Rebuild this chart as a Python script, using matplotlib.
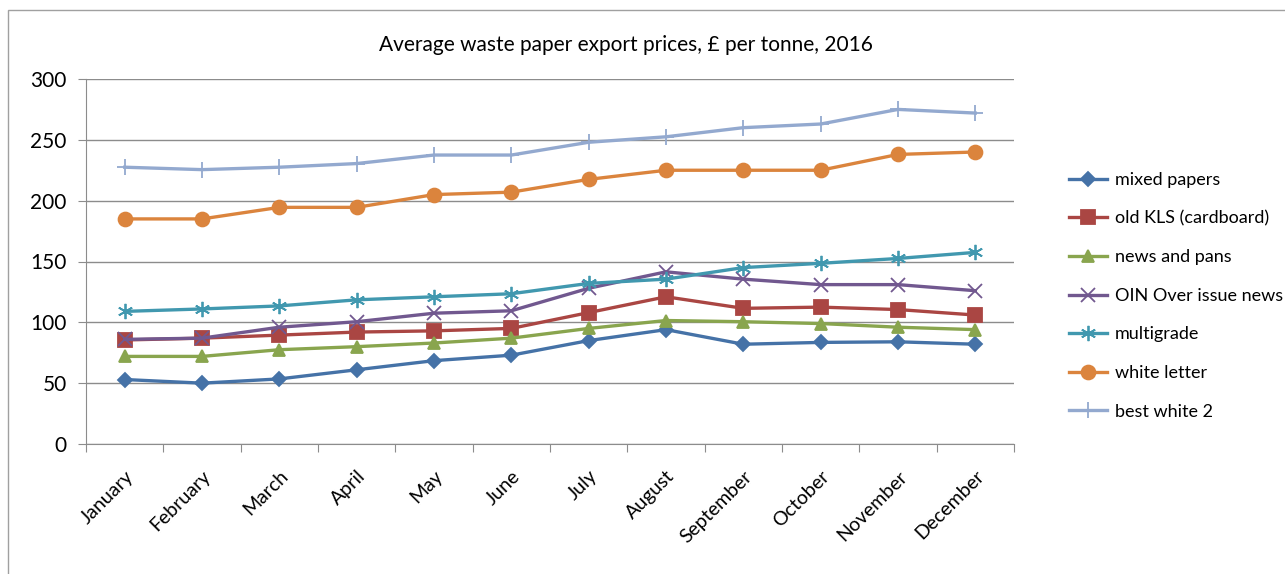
import numpy as np
import matplotlib.pyplot as plt
from matplotlib.patches import Rectangle

months = ['January', 'February', 'March', 'April', 'May', 'June', 'July',
          'August', 'September', 'October', 'November', 'December']

mixed_papers = [53, 50, 53.5, 61, 68.5, 73, 85, 94, 82, 83.5, 84, 82]
old_kls = [85.5, 87, 89.5, 92, 93, 95, 108, 121, 111.5, 112.5, 110.5, 106]
news_pans = [72, 72, 77.5, 80, 83, 87, 95, 101.5, 100.5, 99, 96, 94]
oin = [86, 87, 96, 100.5, 107.5, 109.5, 128, 141.5, 135.5, 131, 131, 126]
multigrade = [109, 111, 113.5, 118.5, 121, 123.5, 132, 135.5, 145, 148.5, 152.5, 157.5]
white_letter = [185, 185, 194.5, 194.5, 205, 207, 217.5, 225, 225, 225, 238, 240]
best_white = [227.5, 225.5, 227.5, 230.5, 237.5, 237.5, 248, 252.5, 260, 263, 275, 272]

names = ['mixed papers', 'old KLS (cardboard)', 'news and pans',
         'OIN Over issue news', 'multigrade', 'white letter', 'best white 2']
series = [mixed_papers, old_kls, news_pans, oin, multigrade, white_letter, best_white]
colors = ['#4572A7', '#AA4643', '#89A54E', '#71588F', '#4198AF', '#DB843D', '#93A9CF']
markers = ['D', 's', '^', 'x', (6, 2, 0), 'o', '+']
msizes = [7, 10, 9, 10, 11, 10, 12]

plt.rcParams['font.family'] = ['Lato', 'DejaVu Sans']

fig = plt.figure(figsize=(12.85, 5.74), dpi=100)
# chart border (cut off at right and bottom in the original)
fig.patches.append(Rectangle((8 / 1285, -0.1), 1.2, 1 - 10 / 574 + 0.1,
                             transform=fig.transFigure, fill=False,
                             edgecolor='#A0A0A0', linewidth=1))
ax = fig.add_axes([86 / 1285, 1 - 444 / 574, 928 / 1285, 365 / 574])

x = np.arange(len(months))
for vals, name, c, m, ms in zip(series, names, colors, markers, msizes):
    ax.plot(x, vals, color=c, linewidth=2.4, marker=m, markersize=ms,
            markeredgewidth=1.3, label=name)

ax.set_xlim(-0.5, 11.5)
ax.set_ylim(0, 300)
ax.set_yticks(range(0, 301, 50))
ax.yaxis.grid(True, color='#8C8C8C', linewidth=1)
ax.set_axisbelow(True)

ax.set_xticks(np.arange(-0.5, 12, 1))
ax.set_xticklabels([])
ax.set_xticks(x, minor=True)
ax.set_xticklabels(months, minor=True, rotation=45, ha='right', va='top',
                   rotation_mode='anchor', fontsize=14)
ax.tick_params(axis='x', which='minor', length=0, pad=17)
ax.tick_params(axis='x', which='major', length=6, color='#8C8C8C', direction='out')
ax.tick_params(axis='y', length=6, color='#8C8C8C', labelsize=15, pad=8)

for s in ['top', 'right']:
    ax.spines[s].set_visible(False)
for s in ['left', 'bottom']:
    ax.spines[s].set_color('#8C8C8C')

fig.text(626 / 1285, 1 - 45 / 574,
         'Average waste paper export prices, £ per tonne, 2016',
         fontsize=15, ha='center', va='center')

ax.legend(loc='upper left', bbox_to_anchor=(1.052, 0.765), frameon=False,
          fontsize=13, handlelength=2.1, labelspacing=1.25, handletextpad=0.4,
          borderaxespad=0)

fig.savefig('out.png', dpi=100)
